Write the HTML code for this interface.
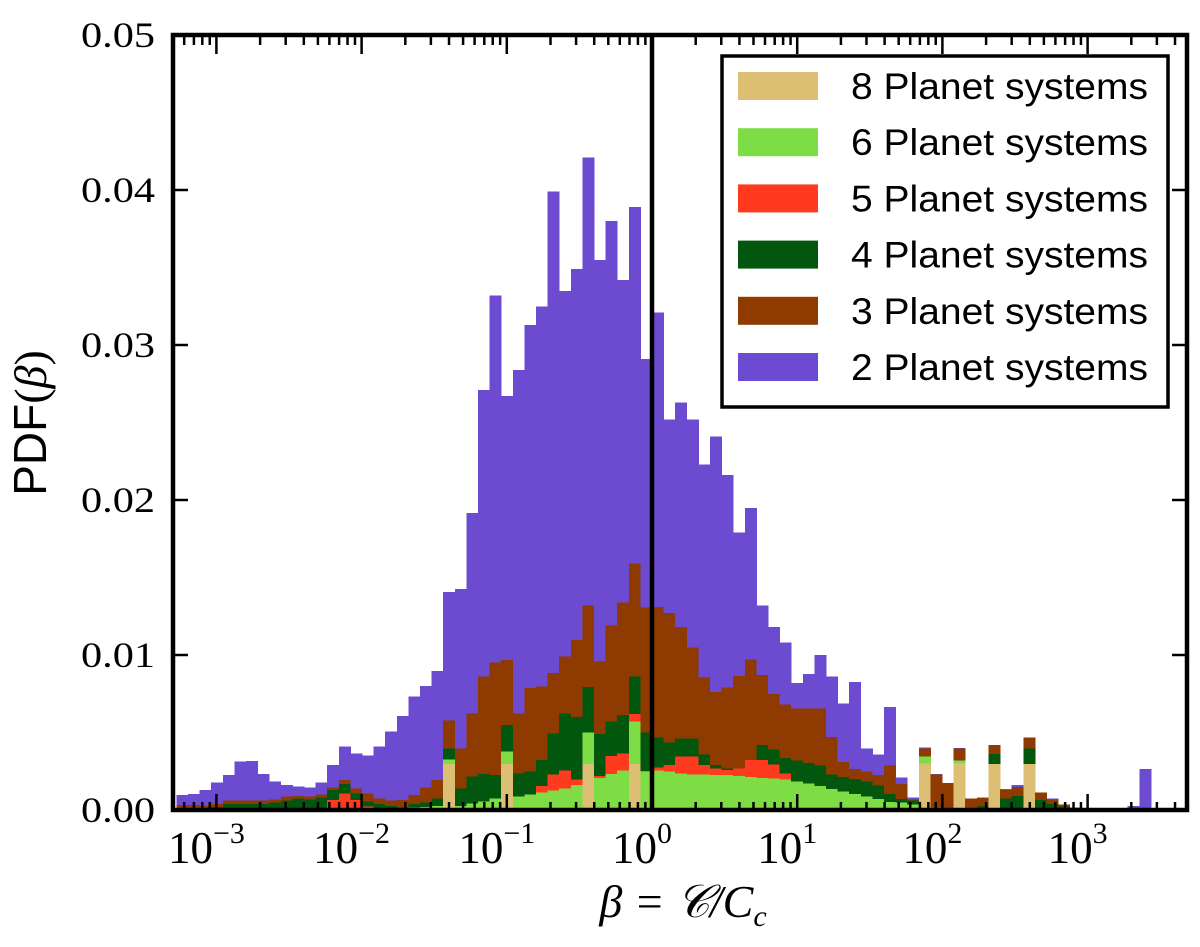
<!DOCTYPE html>
<html><head><meta charset="utf-8"><style>
html,body{margin:0;padding:0;background:#fff;}
svg{display:block;}
</style></head><body>
<svg id="chart" width="1200" height="947" viewBox="0 0 1200 947" xmlns="http://www.w3.org/2000/svg">
<defs><clipPath id="plotclip"><rect x="173" y="35" width="1014" height="775"/></clipPath></defs>
<rect x="0" y="0" width="1200" height="947" fill="#fff"/>
<g id="bars" clip-path="url(#plotclip)" shape-rendering="crispEdges"></g>
<line x1="652" y1="35" x2="652" y2="810" stroke="#000" stroke-width="4.5"/>
<g id="ticks"></g>
<rect x="173" y="35" width="1014" height="775" fill="none" stroke="#000" stroke-width="4.5"/>
<g id="labels"></g>
<text x="683" y="917" text-anchor="middle" font-family="Liberation Serif, serif" font-style="italic" font-size="46">β = 𝒞/C<tspan font-size="30" dy="9">c</tspan></text>
<text transform="translate(46,423) rotate(-90)" text-anchor="middle" font-size="46"><tspan font-family="Liberation Sans, sans-serif">PDF</tspan><tspan font-family="Liberation Serif, serif">(<tspan font-style="italic">β</tspan>)</tspan></text>
<g id="legend">
<rect x="722" y="56" width="446" height="351" fill="#fff" stroke="#000" stroke-width="3.5"/>
</g>
</svg>
<script>
// Stacked histogram tops (PDF x 1e-3), bins of 0.08 decade, bin i spans log10 beta in [(i-41)w,(i-40)w]
const top8 = [0,0,0,0,0,0,0,0,0,0, 0,0,0,0,0,0,0,0,0,0, 0,0,0,2.97,0,0,0,0,2.97,0, 0,0,0,0,0,2.97,0,0,0,2.97, 0,0,0,0,0,0,0,0,0,0, 0,0,0,0,0,0,0,0,0,0, 0,0,0,0,3.0,0,0,3.0,0,0, 2.97,0,0,2.97,0,0,0,0,0,0, 0,0,0,0,0,0,0,0];
const top6 = [0,0,0,0,0,0,0,0,0,0, 0,0,0,0,0,0,0,0,0,0.1, 0.17,0.2,0.26,3.27,0.26,0.43,0.54,0.75,3.77,0.86, 1.01,1.14,1.25,1.4,1.61,5.0,2.05,2.33,2.54,5.71, 2.47,2.54,2.47,2.36,2.29,2.29,2.25,2.25,2.2,2.14, 2.07,2.03,1.96,1.85,1.7,1.54,1.37,1.19,1.04,0.86, 0.7,0.53,0.5,0.35,3.44,0.15,0.05,3.19,0,0, 2.97,0,0,2.97,0,0,0,0,0,0, 0,0,0,0,0,0,0,0];
const top5 = [0,0,0,0,0,0,0,0,0,0, 0,0,0,0.65,1.08,0.65,0.22,0,0,0.1, 0.17,0.2,0.26,3.27,0.26,0.43,0.54,0.75,3.77,0.86, 1.01,1.55,2.3,2.54,1.98,5.0,2.2,3.5,3.66,6.18, 2.51,2.74,2.91,3.46,3.46,2.91,2.69,2.58,2.69,3.24, 3.24,2.95,2.36,1.85,1.7,1.54,1.37,1.19,1.04,0.86, 0.7,0.53,0.5,0.35,3.44,0.15,0.05,3.19,0,0, 2.97,0,0,2.97,0,0,0,0,0,0, 0,0,0,0,0,0,0,0];
const top4 = [0.1,0.1,0.1,0.2,0.39,0.39,0.39,0.39,0.47,0.6, 0.75,0.69,0.82,1.29,1.68,1.08,0.54,0.39,0.26,0.17, 0.39,0.47,0.75,3.98,1.4,2.15,2.33,2.26,5.49,2.37, 2.48,3.23,4.95,6.24,5.99,7.92,4.89,5.71,6.14,8.61, 5.0,4.68,4.35,4.61,4.61,3.57,2.91,2.69,2.69,3.13, 4.19,3.9,3.35,3.18,3.02,2.87,2.29,2.14,1.99,1.85, 1.59,1.04,0.7,0.6,3.44,0.2,0.1,3.19,0.1,0.26, 3.62,0.75,0.9,3.98,0.65,0.39,0.22,0.1,0.05,0, 0,0,0,0,0,0,0,0];
const top3 = [0.32,0.32,0.26,0.39,0.6,0.6,0.6,0.6,0.69,0.86, 0.9,0.86,1.01,1.46,1.94,1.4,1.08,0.75,0.6,0.65, 0.97,1.46,1.94,5.77,3.98,6.24,8.61,9.52,9.69,6.24, 7.86,7.97,8.83,9.9,10.98,13.2,9.58,11.9,13.4,15.9, 13.06,13.1,12.7,11.8,10.5,8.54,7.6,7.9,8.65,9.7, 8.7,7.48,6.82,6.55,6.55,6.55,4.72,3.09,2.65,2.47, 2.25,2.87,1.68,0.69,3.98,2.28,1.74,3.96,0.75,0.78, 4.2,1.29,1.5,4.67,1.14,0.69,0.37,0.1,0.05,0, 0,0,0,0,0,0,0,0];
const top2 = [0.97,1.03,1.29,1.77,2.26,3.12,3.17,2.33,1.83,1.61, 1.51,1.44,1.79,2.91,4.09,3.66,3.51,4.09,5.06,6.07, 7.32,8.01,8.98,14.08,14.25,19.16,27.1,33.2,26.7,28.4, 31.3,32.5,39.9,33.5,34.9,42.1,35.5,38.0,34.2,38.9, 29.1,32.1,25.2,26.3,25.2,22.3,24.1,21.6,17.9,19.5, 13.2,11.8,10.8,8.2,8.76,10.0,8.6,6.86,8.25,3.97, 3.57,6.66,2.1,0.82,4.03,2.33,1.74,4.0,0.75,0.82, 4.2,1.34,1.61,4.67,1.14,0.75,0.37,0.15,0.06,0, 0,0,0.26,2.65,0,0,0,0];
const seriesNames = ["8 Planet systems","6 Planet systems","5 Planet systems","4 Planet systems","3 Planet systems","2 Planet systems"];
const seriesColors = ["#dcbf72","#7edc45","#ff3a1f","#02560e","#8f3a00","#6c4bd1"];
const yTicks = [0,0.01,0.02,0.03,0.04,0.05];
const yTickLabels = ["0.00","0.01","0.02","0.03","0.04","0.05"];
const xDecades = [-3,-2,-1,0,1,2,3];
const xTickLabels = ["−3","−2","−1","0","1","2","3"];

const NS="http://www.w3.org/2000/svg";
const X0=652, DEC=145.2, YB=810, YT=35, YMAX=0.05, BW=0.0799;
const xs = l => X0 + l*DEC;
const ys = v => YB - v/YMAX*(YB-YT);
function mk(tag, attrs, parent){const e=document.createElementNS(NS,tag);for(const k in attrs)e.setAttribute(k,attrs[k]);parent.appendChild(e);return e;}

const bars=document.getElementById('bars');
const stacks=[top8,top6,top5,top4,top3,top2];
const n=top2.length;
for(let i=0;i<n;i++){
  const x1=xs((i-41)*BW), x2=xs((i-40)*BW);
  let prev=0;
  for(let s=0;s<stacks.length;s++){
    const t=stacks[s][i]||0;
    if(t>prev){
      const r=mk('rect',{x:x1.toFixed(2),y:ys(t/1000).toFixed(2),width:(x2-x1+0.4).toFixed(2),height:(ys(prev/1000)-ys(t/1000)).toFixed(2),fill:seriesColors[s]},bars);
      
      
      prev=t;
    }
  }
}

const ticks=document.getElementById('ticks');
const labels=document.getElementById('labels');
for(const d of xDecades.concat([-4])){
  for(let m=1;m<10;m++){
    const l=d+Math.log10(m); const x=xs(l);
    if(x<174||x>1186) continue;
    const len=m===1?16:8;
    const a=mk('line',{x1:x,y1:YB,x2:x,y2:YB-len,stroke:'#000','stroke-width':2.5},ticks);
    
    
    const b=mk('line',{x1:x,y1:YT,x2:x,y2:YT+(m===1?19:10),stroke:'#000','stroke-width':2.5},ticks);
    
    
  }
}
xDecades.forEach((d,k)=>{
  const t=mk('text',{x:xs(d)-10,y:863,'text-anchor':'middle','font-family':'Liberation Serif, serif','font-size':45},labels);
  
  
  t.textContent='10';
  const sp=mk('tspan',{'font-size':30,dy:-20},t);
  sp.textContent=xTickLabels[k];
});
yTicks.forEach((v,k)=>{
  const y=ys(v);
  const a=mk('line',{x1:173,y1:y,x2:188,y2:y,stroke:'#000','stroke-width':2.5},ticks);
  
  
  const b=mk('line',{x1:1172,y1:y,x2:1187,y2:y,stroke:'#000','stroke-width':2.5},ticks);
  
  
  const t=mk('text',{x:155,y:y+12,'text-anchor':'end','font-family':'Liberation Serif, serif','font-size':36,textLength:74,lengthAdjust:'spacingAndGlyphs'},labels);
  
  
  t.textContent=yTickLabels[k];
});

const legend=document.getElementById('legend');
seriesNames.forEach((nm,k)=>{
  const y=72+k*56.2;
  const r=mk('rect',{x:738,y:y,width:80,height:28,fill:seriesColors[k]},legend);
  
  
  const t=mk('text',{x:851,y:y+27,'font-family':'Liberation Sans, sans-serif','font-size':37,textLength:297,lengthAdjust:'spacingAndGlyphs'},legend);
  
  
  t.textContent=nm;
});
</script>
</body></html>
